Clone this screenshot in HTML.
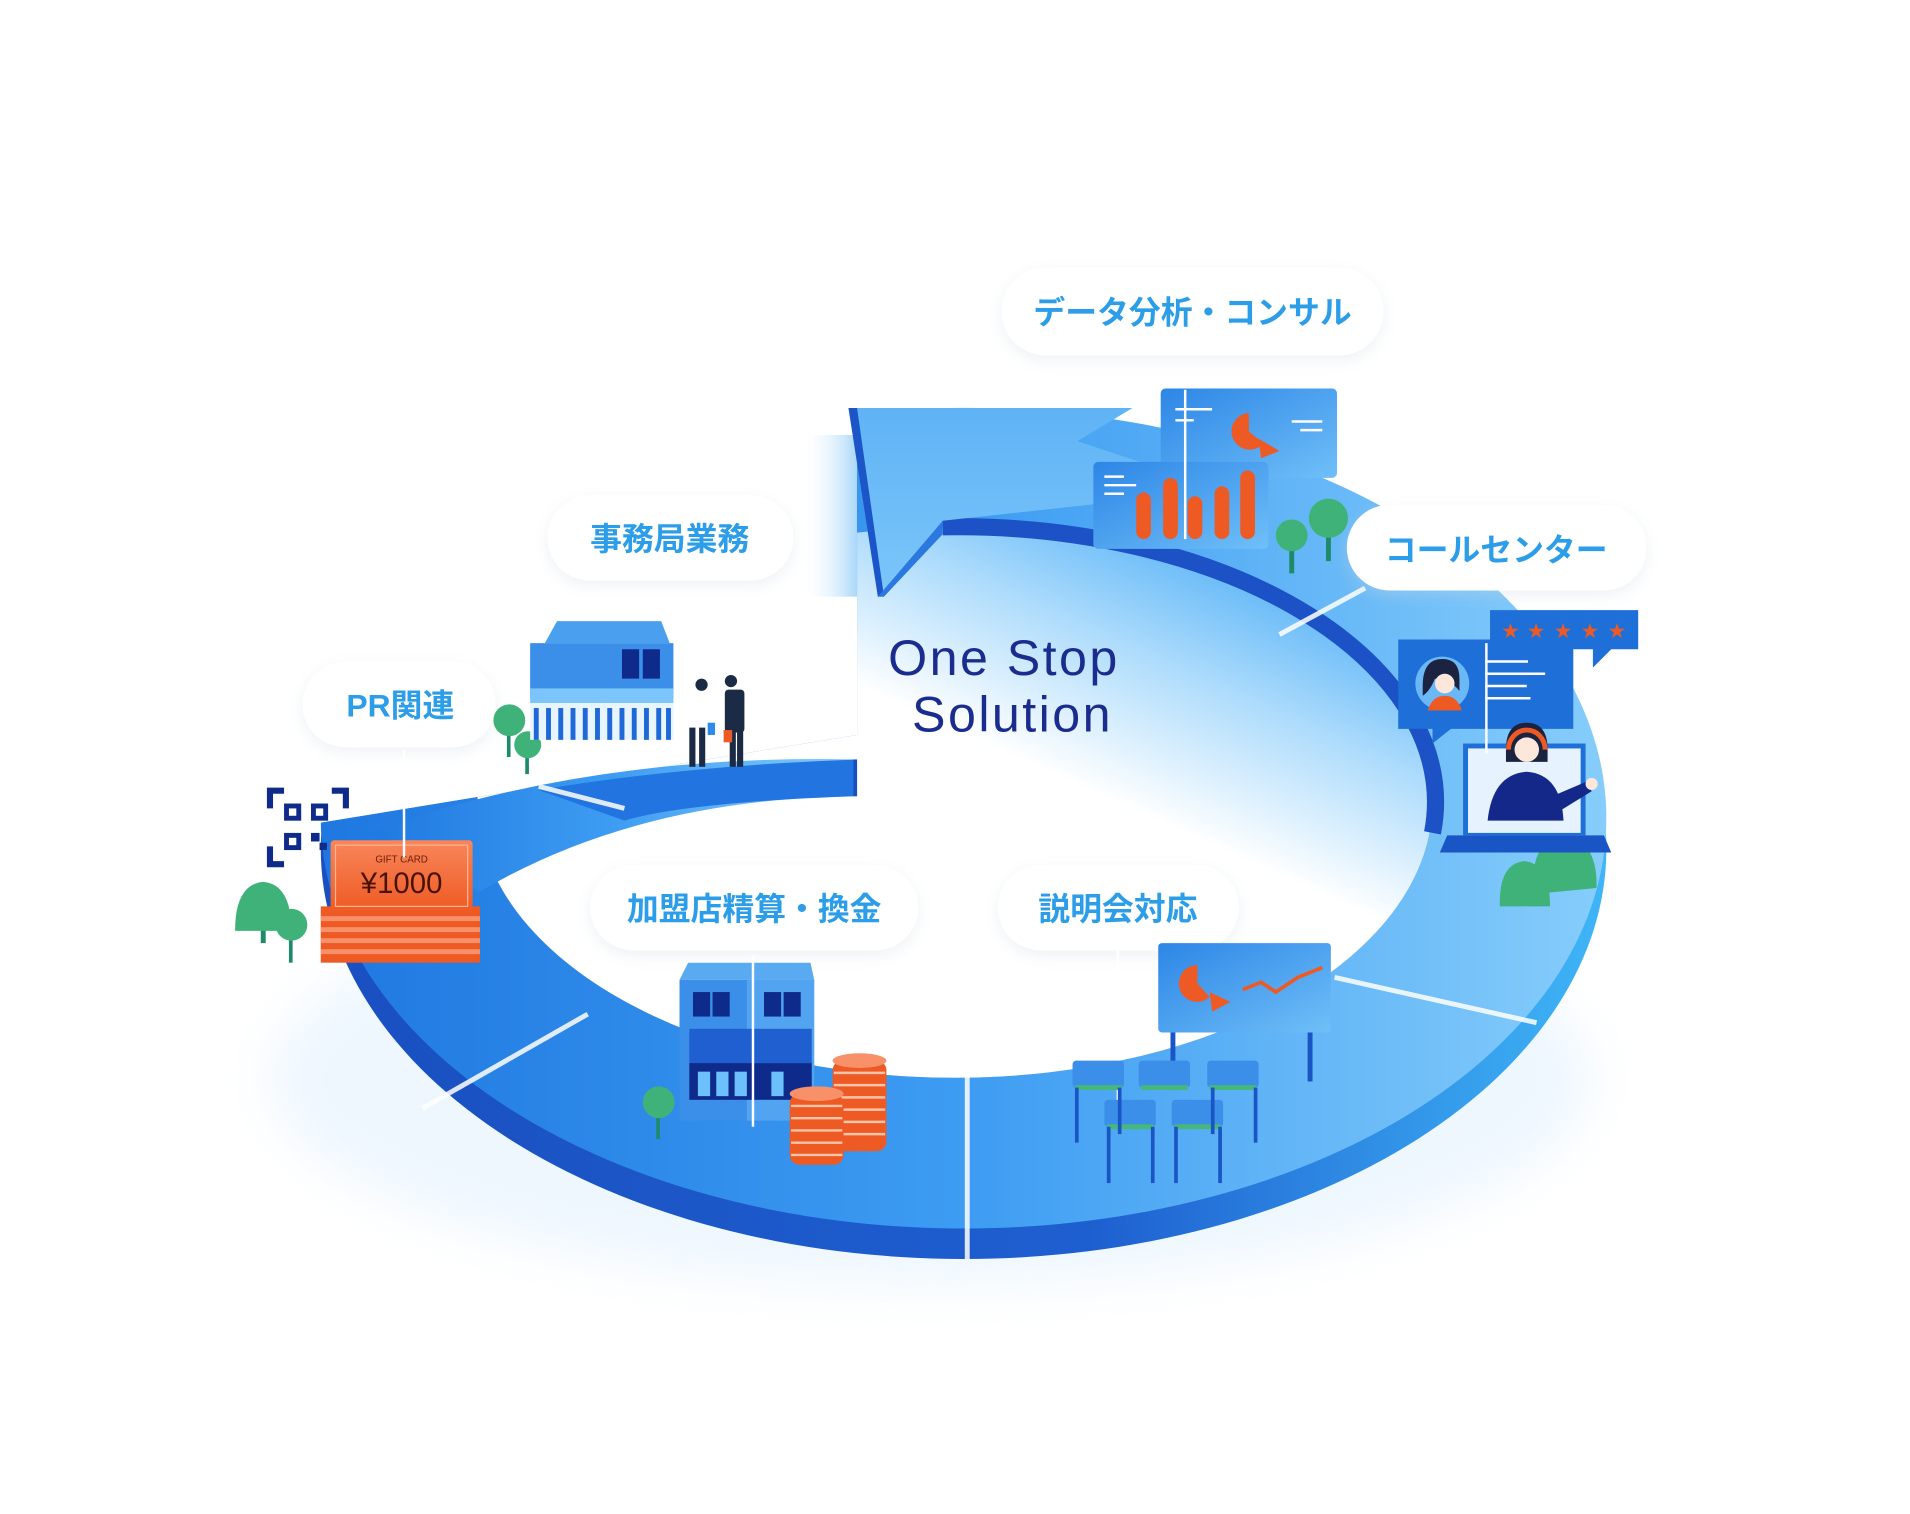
<!DOCTYPE html>
<html><head><meta charset="utf-8"><style>
html,body{margin:0;padding:0;background:#fff;width:1910px;height:1514px;overflow:hidden}
svg{display:block}
.lb{font-family:"Liberation Sans","Noto Sans CJK JP",sans-serif;font-weight:700;fill:#2c9de8;font-size:26px}
</style></head><body>
<svg width="1910" height="1514" viewBox="0 0 1560 1236" xmlns="http://www.w3.org/2000/svg">
<defs>
<linearGradient id="rg" x1="0" y1="0" x2="1" y2="0">
<stop offset="0" stop-color="#1f78e0"/><stop offset="0.5" stop-color="#3d9cf2"/><stop offset="1" stop-color="#86cdfb"/></linearGradient>
<linearGradient id="side" x1="0" y1="0" x2="1" y2="0">
<stop offset="0" stop-color="#1a4fc0"/><stop offset="0.6" stop-color="#1e5fd0"/><stop offset="1" stop-color="#3fb6f7"/></linearGradient>
<linearGradient id="hole" x1="0.85" y1="0.1" x2="0.5" y2="0.55">
<stop offset="0" stop-color="#5db5f7"/><stop offset="0.35" stop-color="#aedcfc"/><stop offset="0.75" stop-color="#fff"/></linearGradient>
<linearGradient id="arr" x1="0" y1="0" x2="0" y2="1">
<stop offset="0" stop-color="#5fb3f5"/><stop offset="1" stop-color="#7cc6fa"/></linearGradient>
<linearGradient id="shade" x1="0" y1="0" x2="1" y2="0">
<stop offset="0" stop-color="#fff" stop-opacity="0"/><stop offset="1" stop-color="#5ab2f4"/></linearGradient>
<linearGradient id="bx" x1="0" y1="0" x2="1" y2="1">
<stop offset="0" stop-color="#2d86e6"/><stop offset="1" stop-color="#6fbff8"/></linearGradient>
<linearGradient id="or" x1="0" y1="0" x2="0" y2="1">
<stop offset="0" stop-color="#f8865a"/><stop offset="1" stop-color="#ee5a24"/></linearGradient>
<filter id="sh" x="-20%" y="-40%" width="140%" height="180%"><feGaussianBlur stdDeviation="6"/></filter>
<filter id="bl" x="-20%" y="-40%" width="140%" height="180%"><feGaussianBlur stdDeviation="20"/></filter>
<clipPath id="ringclip"><path d="M0 0 H1560 V1236 H0 Z M150 690 L700 600 L700 300 L150 300 Z" clip-rule="evenodd"/></clipPath>
</defs>

<ellipse cx="760" cy="880" rx="540" ry="170" fill="#e3f2fe" opacity="0.6" filter="url(#bl)"/>

<rect x="655" y="355" width="62" height="132" fill="url(#shade)"/>

<g clip-path="url(#ringclip)">
<ellipse cx="787" cy="693" rx="525" ry="335" fill="url(#side)"/>
<path fill-rule="evenodd" fill="url(#rg)" d="M262 668 A525 335 0 1 0 1312 668 A525 335 0 1 0 262 668 Z M390 655 A390 225 0 1 0 1170 655 A390 225 0 1 0 390 655 Z"/>
<ellipse cx="780" cy="655" rx="390" ry="225" fill="url(#hole)"/>
</g>
<path d="M770 430 A390 225 0 0 1 1170 680" fill="none" stroke="#1d52c6" stroke-width="14"/>
<polygon points="693,333 925,333 880,360 1000,400 770,425 717,487" fill="url(#arr)"/>
<polygon points="693,333 700,333 722,487 717,487" fill="#1c55c8"/>
<polygon points="717,487 770,425 770,436 722,487" fill="#2a78e0"/>

<path d="M300 680 Q480 615 700 620 L700 650 Q520 652 392 728 Z" fill="url(#rg)"/>
<path d="M440 645 Q560 625 700 620 L700 650 Q560 655 510 670 Z" fill="#2275e0"/>
<rect x="697" y="620" width="3" height="30" fill="#1a4fc0"/>

<g stroke="#ffffff" stroke-width="4" opacity="0.85">
<line x1="345" y1="905" x2="480" y2="828"/>
<line x1="790" y1="878" x2="790" y2="1028"/>
<line x1="1090" y1="798" x2="1255" y2="835"/>
<line x1="1045" y1="518" x2="1115" y2="480"/>
<line x1="440" y1="642" x2="510" y2="660"/>
</g>

<g>
<rect x="818" y="222" width="312" height="72" rx="36" fill="#cfd9e4" opacity="0.35" filter="url(#sh)"/>
<rect x="818" y="218" width="312" height="72" rx="36" fill="#fff"/>
<text x="974" y="264" text-anchor="middle" class="lb">データ分析・コンサル</text>
<rect x="447" y="408" width="201" height="70" rx="35" fill="#cfd9e4" opacity="0.35" filter="url(#sh)"/>
<rect x="447" y="404" width="201" height="70" rx="35" fill="#fff"/>
<text x="547" y="449" text-anchor="middle" class="lb">事務局業務</text>
<rect x="1100" y="416" width="245" height="70" rx="35" fill="#cfd9e4" opacity="0.35" filter="url(#sh)"/>
<rect x="1100" y="412" width="245" height="70" rx="35" fill="#fff"/>
<text x="1222" y="458" text-anchor="middle" class="lb">コールセンター</text>
<rect x="247" y="544" width="158" height="70" rx="35" fill="#cfd9e4" opacity="0.35" filter="url(#sh)"/>
<rect x="247" y="540" width="158" height="70" rx="35" fill="#fff"/>
<text x="327" y="585" text-anchor="middle" class="lb">PR関連</text>
<rect x="482" y="710" width="268" height="70" rx="35" fill="#cfd9e4" opacity="0.35" filter="url(#sh)"/>
<rect x="482" y="706" width="268" height="70" rx="35" fill="#fff"/>
<text x="616" y="751" text-anchor="middle" class="lb">加盟店精算・換金</text>
<rect x="815" y="710" width="197" height="70" rx="35" fill="#cfd9e4" opacity="0.35" filter="url(#sh)"/>
<rect x="815" y="706" width="197" height="70" rx="35" fill="#fff"/>
<text x="913" y="751" text-anchor="middle" class="lb">説明会対応</text>
</g>

<text x="820" y="551" text-anchor="middle" font-family="Liberation Sans, sans-serif" font-size="41" fill="#1b2c8f" letter-spacing="2">One Stop</text>
<text x="827" y="597" text-anchor="middle" font-family="Liberation Sans, sans-serif" font-size="41" fill="#1b2c8f" letter-spacing="2">Solution</text>

<rect x="948" y="317" width="144" height="73" rx="4" fill="url(#bx)"/>
<path d="M1020 337 A15 15 0 1 0 1032 362 L1020 352Z" fill="#ee5a24"/>
<path d="M1028 358 L1045 368 L1030 374Z" fill="#ee5a24"/>
<g stroke="#fff" stroke-width="2"><line x1="960" y1="334" x2="990" y2="334"/><line x1="960" y1="343" x2="975" y2="343"/><line x1="1055" y1="344" x2="1080" y2="344"/><line x1="1062" y1="351" x2="1080" y2="351"/></g>
<rect x="893" y="377" width="143" height="71" rx="4" fill="url(#bx)"/>
<g stroke="#fff" stroke-width="2"><line x1="902" y1="389" x2="918" y2="389"/><line x1="902" y1="396" x2="928" y2="396"/><line x1="902" y1="403" x2="918" y2="403"/></g>
<g fill="#ee5a24"><rect x="928" y="402" width="12" height="38" rx="6"/><rect x="950" y="390" width="12" height="50" rx="6"/><rect x="970" y="405" width="12" height="35" rx="6"/><rect x="992" y="397" width="12" height="43" rx="6"/><rect x="1013" y="384" width="12" height="56" rx="6"/></g>
<line x1="968" y1="318" x2="968" y2="440" stroke="#fff" stroke-width="2"/>

<g>
<rect x="1083" y="430" width="4" height="28" fill="#1e8a6a"/><circle cx="1085" cy="423" r="16" fill="#3fb27a"/>
<rect x="1053" y="442" width="4" height="26" fill="#1e8a6a"/><circle cx="1055" cy="437" r="13" fill="#3fb27a"/>
<rect x="414" y="592" width="3" height="26" fill="#1e8a6a"/><circle cx="416" cy="588" r="13" fill="#3fb27a"/>
<rect x="429" y="610" width="3" height="22" fill="#1e8a6a"/><circle cx="431" cy="608" r="11" fill="#3fb27a"/>
<rect x="213" y="745" width="4" height="25" fill="#1e8a6a"/><path d="M192 760 Q192 722 215 720 Q238 722 238 760Z" fill="#3fb27a"/>
<rect x="236" y="758" width="3" height="28" fill="#1e8a6a"/><circle cx="238" cy="755" r="13" fill="#3fb27a"/>
<rect x="536" y="905" width="3" height="25" fill="#1e8a6a"/><circle cx="538" cy="900" r="13" fill="#3fb27a"/>
<path d="M1252 730 Q1250 685 1276 682 Q1305 685 1304 725Z" fill="#3fb27a"/>
<path d="M1225 740 Q1224 705 1245 703 Q1266 705 1266 740Z" fill="#3fb27a"/>
</g>

<polygon points="445,525 455,507 540,507 547,525" fill="#4aa0ee"/>
<rect x="433" y="525" width="117" height="45" fill="#3b8fe8"/>
<rect x="433" y="562" width="117" height="12" fill="#7cc5fa"/>
<rect x="508" y="530" width="14" height="24" fill="#0e2a8a"/><rect x="525" y="530" width="14" height="24" fill="#0e2a8a"/>
<g fill="#1f68d8"><rect x="433" y="574" width="117" height="30" fill="#e8f4fe"/>
<rect x="436" y="578" width="4" height="26"/><rect x="446" y="578" width="4" height="26"/><rect x="456" y="578" width="4" height="26"/><rect x="466" y="578" width="4" height="26"/><rect x="476" y="578" width="4" height="26"/><rect x="486" y="578" width="4" height="26"/><rect x="496" y="578" width="4" height="26"/><rect x="506" y="578" width="4" height="26"/><rect x="516" y="578" width="4" height="26"/><rect x="526" y="578" width="4" height="26"/><rect x="536" y="578" width="4" height="26"/><rect x="544" y="578" width="4" height="26"/></g>
<g fill="#1b2a45"><circle cx="573" cy="559" r="5"/><rect x="564" y="566" width="14" height="30" rx="3" fill="#fff"/><rect x="563" y="594" width="5" height="32"/><rect x="571" y="594" width="5" height="32"/>
<circle cx="597" cy="556" r="5"/><rect x="592" y="563" width="16" height="35" rx="3"/><rect x="596" y="596" width="5" height="30"/><rect x="602" y="596" width="5" height="30"/></g>
<rect x="578" y="590" width="6" height="10" fill="#2c8ae8"/><rect x="591" y="596" width="7" height="10" fill="#ee5a24"/>

<g fill="#0e2a8a">
<path d="M218 643 h14 v5 h-9 v12 h-5z"/><path d="M285 643 h-14 v5 h9 v12 h5z"/><path d="M218 708 h14 v-5 h-9 v-12 h-5z"/>
<rect x="232" y="656" width="14" height="14"/><rect x="254" y="656" width="14" height="14"/><rect x="232" y="680" width="14" height="14"/><rect x="254" y="680" width="7" height="7"/><rect x="261" y="688" width="6" height="6"/>
</g>
<g fill="#fff"><rect x="236" y="660" width="6" height="6"/><rect x="258" y="660" width="6" height="6"/><rect x="236" y="684" width="6" height="6"/></g>

<rect x="262" y="740" width="130" height="46" fill="#ee5a24"/>
<g fill="#f8906a"><rect x="262" y="748" width="130" height="4"/><rect x="262" y="757" width="130" height="4"/><rect x="262" y="766" width="130" height="4"/><rect x="262" y="775" width="130" height="4"/></g>
<rect x="270" y="686" width="116" height="58" rx="3" fill="url(#or)"/>
<rect x="274" y="690" width="108" height="50" fill="none" stroke="#fbb593" stroke-width="1"/>
<text x="328" y="704" text-anchor="middle" font-family="Liberation Sans, sans-serif" font-size="8" fill="#6b1d0a">GIFT CARD</text>
<text x="328" y="729" text-anchor="middle" font-family="Liberation Sans, sans-serif" font-size="24" fill="#4a1205">¥1000</text>
<line x1="330" y1="612" x2="330" y2="700" stroke="#fff" stroke-width="2"/>

<path d="M1142 522 h143 v73 h-100 l-15 12 v-12 h-28z" fill="#1f6fd8"/>
<circle cx="1178" cy="558" r="22" fill="#6ab8f6"/>
<path d="M1162 560 q0 -22 16 -22 q14 0 14 16 v10 q-8 -10 -20 -10 q-4 10 -10 14z" fill="#1b2340"/>
<circle cx="1180" cy="558" r="8" fill="#fde6da"/>
<path d="M1166 580 q4 -12 14 -12 q10 0 14 12z" fill="#ee5a24"/>
<g stroke="#fff" stroke-width="2"><line x1="1213" y1="540" x2="1248" y2="540"/><line x1="1213" y1="550" x2="1262" y2="550"/><line x1="1213" y1="560" x2="1247" y2="560"/><line x1="1213" y1="570" x2="1250" y2="570"/></g>
<path d="M1217 498 h121 v32 h-22 l-15 15 v-15 h-84z" fill="#1f6fd8"/>
<g fill="#ee5a24" font-family="DejaVu Sans, sans-serif" font-size="17"><text x="1226" y="521">★</text><text x="1247" y="521">★</text><text x="1269" y="521">★</text><text x="1291" y="521">★</text><text x="1313" y="521">★</text></g>
<rect x="1195" y="607" width="100" height="75" fill="#1f6fd8"/>
<rect x="1199" y="611" width="92" height="69" fill="#e6f2fd"/>
<path d="M1182 682 h128 l6 14 h-140z" fill="#1a55c6"/>
<path d="M1215 670 q4 -38 32 -40 q28 2 30 40z" fill="#14288a"/>
<path d="M1268 650 l28 -12 l4 8 l-26 16z" fill="#14288a"/><circle cx="1300" cy="640" r="5" fill="#fde6da"/>
<path d="M1230 612 q0 -22 17 -22 q17 0 17 22 v10 h-34z" fill="#1b2340"/>
<circle cx="1247" cy="612" r="10" fill="#fde6da"/>
<path d="M1232 612 a15 16 0 0 1 30 0" fill="none" stroke="#ee5a24" stroke-width="4"/>
<line x1="1214" y1="525" x2="1214" y2="615" stroke="#fff" stroke-width="2"/>

<rect x="946" y="770" width="141" height="73" rx="3" fill="url(#bx)"/>
<path d="M978 788 A15 15 0 1 0 988 814 L978 803Z" fill="#ee5a24"/>
<path d="M988 810 L1005 818 L990 826Z" fill="#ee5a24"/>
<polyline points="1015,808 1030,802 1042,810 1060,798 1080,790" fill="none" stroke="#ee5a24" stroke-width="3"/>
<rect x="956" y="843" width="4" height="25" fill="#1a55c6"/><rect x="1068" y="843" width="4" height="40" fill="#1a55c6"/>
<line x1="913" y1="776" x2="913" y2="905" stroke="#fff" stroke-width="2"/>
<g fill="#3b8fe8">
<rect x="876" y="866" width="42" height="22" rx="3"/><rect x="930" y="866" width="42" height="22" rx="3"/><rect x="986" y="866" width="42" height="22" rx="3"/>
<rect x="902" y="898" width="42" height="22" rx="3"/><rect x="957" y="898" width="42" height="22" rx="3"/>
</g>
<g fill="#45b87a"><rect x="878" y="886" width="38" height="4"/><rect x="932" y="886" width="38" height="4"/><rect x="988" y="886" width="38" height="4"/><rect x="904" y="918" width="38" height="4"/><rect x="959" y="918" width="38" height="4"/></g>
<g fill="#1a55c6"><rect x="878" y="888" width="3" height="45"/><rect x="913" y="888" width="3" height="38"/><rect x="1024" y="888" width="3" height="45"/><rect x="989" y="888" width="3" height="38"/>
<rect x="904" y="920" width="3" height="46"/><rect x="940" y="920" width="3" height="46"/><rect x="959" y="920" width="3" height="46"/><rect x="995" y="920" width="3" height="46"/></g>

<polygon points="555,800 562,786 662,786 665,800" fill="#5aaaf2"/>
<rect x="555" y="800" width="110" height="115" fill="#3b8fe8"/>
<rect x="610" y="800" width="55" height="115" fill="#62b3f6" opacity="0.6"/>
<g fill="#0e2a8a"><rect x="566" y="810" width="14" height="20"/><rect x="582" y="810" width="14" height="20"/><rect x="624" y="810" width="14" height="20"/><rect x="640" y="810" width="14" height="20"/></g>
<rect x="563" y="840" width="100" height="28" fill="#1f5fd0"/>
<rect x="563" y="868" width="100" height="30" fill="#0e2a8a"/>
<g fill="#6cc0fb"><rect x="570" y="875" width="10" height="20"/><rect x="585" y="875" width="10" height="20"/><rect x="600" y="875" width="10" height="20"/><rect x="630" y="875" width="10" height="20"/></g>
<line x1="615" y1="780" x2="615" y2="920" stroke="#fff" stroke-width="2"/>
<g>
<rect x="680" y="866" width="44" height="74" rx="8" fill="#ee5a24"/>
<g stroke="#fcc4a8" stroke-width="2"><line x1="681" y1="876" x2="723" y2="876"/><line x1="681" y1="886" x2="723" y2="886"/><line x1="681" y1="896" x2="723" y2="896"/><line x1="681" y1="906" x2="723" y2="906"/><line x1="681" y1="916" x2="723" y2="916"/><line x1="681" y1="926" x2="723" y2="926"/></g>
<ellipse cx="702" cy="866" rx="22" ry="6" fill="#f8906a"/>
<rect x="645" y="893" width="44" height="58" rx="8" fill="#ee5a24"/>
<g stroke="#fcc4a8" stroke-width="2"><line x1="646" y1="903" x2="688" y2="903"/><line x1="646" y1="913" x2="688" y2="913"/><line x1="646" y1="923" x2="688" y2="923"/><line x1="646" y1="933" x2="688" y2="933"/><line x1="646" y1="943" x2="688" y2="943"/></g>
<ellipse cx="667" cy="893" rx="22" ry="6" fill="#f8906a"/>
</g>
</svg>
</body></html>
